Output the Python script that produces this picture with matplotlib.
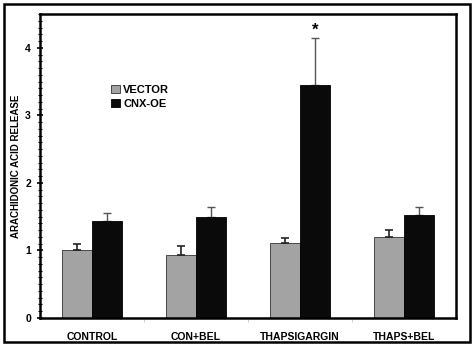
#!/usr/bin/env python3

import numpy as np
import matplotlib
matplotlib.use('Agg')
import matplotlib.pyplot as plt
from matplotlib.patches import Rectangle
from matplotlib.ticker import MultipleLocator

categories = ['CONTROL', 'CON+BEL', 'THAPSIGARGIN', 'THAPS+BEL']
vector = [1.00, 0.93, 1.11, 1.20]
vector_err = [0.10, 0.14, 0.08, 0.11]
cnx = [1.43, 1.50, 3.45, 1.52]
cnx_err = [0.12, 0.15, 0.69, 0.13]
star_cat = 2
star_y = 4.26

plt.rcParams['font.family'] = ['Liberation Sans', 'DejaVu Sans']
plt.rcParams['font.weight'] = 'bold'

fig = plt.figure(figsize=(4.74, 3.46), dpi=100)
ax = fig.add_axes([40/474, 28/346, 416/474, 304/346])

x = np.arange(len(categories))
w = 0.29
ax.bar(x - w/2, vector, w, color='#a3a3a3', edgecolor='#333333', linewidth=0.6,
       label='VECTOR', zorder=2)
ax.bar(x + w/2, cnx, w, color='#0a0a0a', edgecolor='#000000', linewidth=0.6,
       label='CNX-OE', zorder=2)
ax.errorbar(x - w/2, vector, yerr=[np.zeros(4), vector_err], fmt='none',
            ecolor='#222222', elinewidth=1.2, capsize=3, capthick=1.2, zorder=3)
ax.errorbar(x + w/2, cnx, yerr=[np.zeros(4), cnx_err], fmt='none',
            ecolor='#555555', elinewidth=1.0, capsize=3, capthick=1.0, zorder=1)

ax.text(x[star_cat] + w/2, star_y, '*', ha='center', va='center',
        fontsize=12, fontweight='bold')

ax.set_xlim(-0.5, len(categories) - 0.5)
ax.set_ylim(0, 4.5)
ax.set_xticks(x)
ax.set_xticklabels(categories, fontsize=7.5, fontweight='bold')
ax.set_xticks(x[:-1] + 0.5, minor=True)
ax.tick_params(axis='x', which='major', length=0, pad=10)
ax.tick_params(axis='x', which='minor', length=3, width=0.5, color='#bbbbbb')
ax.yaxis.set_major_locator(MultipleLocator(1))
ax.yaxis.set_minor_locator(MultipleLocator(0.1))
ax.tick_params(axis='y', which='major', direction='inout', length=5, width=1.2,
               labelsize=7.5, pad=4)
ax.tick_params(axis='y', which='minor', direction='inout', length=2.5, width=0.8)
for lbl in ax.get_yticklabels():
    lbl.set_fontweight('bold')
ax.set_ylabel('ARACHIDONIC ACID RELEASE', fontsize=7, fontweight='bold', labelpad=3)

for sp in ax.spines.values():
    sp.set_linewidth(1.8)

ax.legend(loc='upper left', bbox_to_anchor=(0.147, 0.80), frameon=False,
          handlelength=0.8, handleheight=0.8, handletextpad=0.3,
          labelspacing=0.35, prop={'size': 8, 'weight': 'bold'})

fig.patches.append(Rectangle((4/474, 4/346), 466/474, 338/346, transform=fig.transFigure,
                             fill=False, edgecolor='black', linewidth=1.8))

fig.savefig('out.png', dpi=100)
